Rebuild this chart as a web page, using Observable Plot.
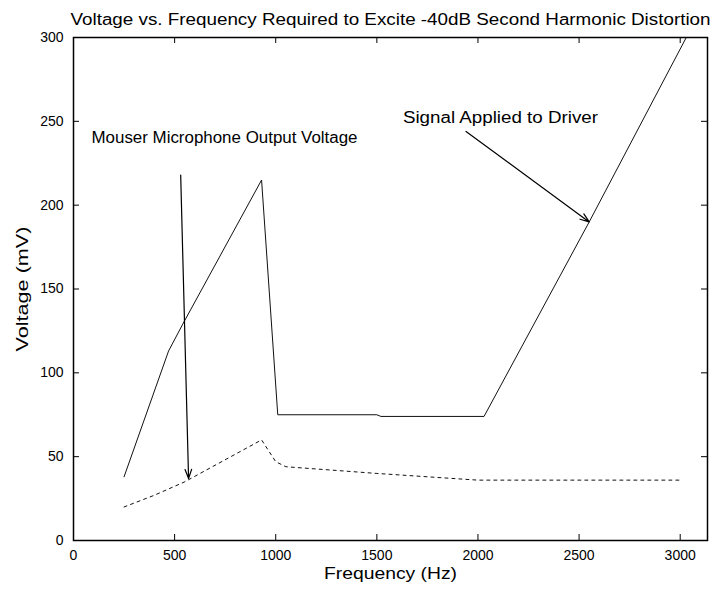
<!DOCTYPE html>
<html>
<head>
<meta charset="utf-8">
<script src="https://cdn.jsdelivr.net/npm/d3@7"></script>
<script src="https://cdn.jsdelivr.net/npm/@observablehq/plot@0.6"></script>
<style>
  html, body { margin: 0; padding: 0; background: #fff; }
  svg { display: block; }
</style>
</head>
<body>
<div id="chart"></div>
<script>
const title = "Voltage vs. Frequency Required to Excite -40dB Second Harmonic Distortion";
const xLabel = "Frequency (Hz)";
const yLabel = "Voltage (mV)";

const xTicks = [0, 500, 1000, 1500, 2000, 2500, 3000];
const yTicks = [0, 50, 100, 150, 200, 250, 300];

// Signal Applied to Driver
const driverFreq = [250, 470, 540, 930, 1010, 1500, 1520, 2030, 2550, 3030];
const driverVolt = [38, 113, 129, 215, 75, 75, 74, 74, 190, 300];

// Mouser Microphone Output Voltage
const micFreq = [250, 400, 550, 930, 1000, 1050, 1500, 2000, 2500, 3000];
const micVolt = [20, 27, 35, 60, 47, 44, 40, 36, 36, 36];

// Annotations
const annTexts = ["Mouser Microphone Output Voltage", "Signal Applied to Driver"];
const annFreq = [89, 1629];
const annVolt = [240, 252];
const arrowFrom = [[530, 218], [1941, 244]];
const arrowTo = [[569, 37], [2550, 190]];

const driver = driverFreq.map((f, i) => ({f, v: driverVolt[i]}));
const mic = micFreq.map((f, i) => ({f, v: micVolt[i]}));
const anns = annTexts.map((t, i) => ({t, f: annFreq[i], v: annVolt[i]}));
const arrows = arrowFrom.map((a, i) => ({x1: a[0], y1: a[1], x2: arrowTo[i][0], y2: arrowTo[i][1]}));

const font = "'Liberation Sans', Arial, sans-serif";

const chart = Plot.plot({
  width: 712,
  height: 594,
  marginLeft: 73,
  marginRight: 5,
  marginTop: 37,
  marginBottom: 54,
  style: {fontFamily: font, fontSize: "14px", color: "#000", background: "#fff"},
  x: {domain: [0, 3135], ticks: xTicks},
  y: {domain: [0, 300], ticks: yTicks},
  marks: [
    Plot.axisX({ticks: xTicks, tickSize: 0, tickPadding: 10, tickFormat: d => String(d), label: null, fontSize: 14}),
    Plot.axisY({ticks: yTicks, tickSize: 0, tickPadding: 10, tickFormat: d => String(d), label: null, fontSize: 14}),
    // inward ticks on all four sides
    Plot.tickX(xTicks, {x: d => d, insetTop: 497, stroke: "#000"}),
    Plot.tickX(xTicks, {x: d => d, insetBottom: 497, stroke: "#000"}),
    Plot.tickY(yTicks, {y: d => d, insetRight: 628, stroke: "#000"}),
    Plot.tickY(yTicks, {y: d => d, insetLeft: 628, stroke: "#000"}),
    Plot.line(driver, {x: "f", y: "v", stroke: "#111", strokeWidth: 1, clip: true}),
    Plot.line(mic, {x: "f", y: "v", stroke: "#111", strokeWidth: 1, strokeDasharray: "3,4"}),
    Plot.arrow(arrows, {x1: "x1", y1: "y1", x2: "x2", y2: "y2", stroke: "#000", strokeWidth: 1.2, headLength: 12, headAngle: 40}),
    Plot.text(anns, {x: "f", y: "v", text: "t", textAnchor: "start", lineAnchor: "middle", fontSize: 16, fill: "#000"}),
    Plot.text([title], {frameAnchor: "top", dy: -24, textAnchor: "middle", fontSize: 16, fill: "#000"}),
    Plot.text([xLabel], {frameAnchor: "bottom", dy: 38, textAnchor: "middle", fontSize: 16, fill: "#000"}),
    Plot.text([yLabel], {frameAnchor: "left", dx: -51, rotate: -90, textAnchor: "middle", fontSize: 16, fill: "#000"}),
    Plot.frame({stroke: "#000", strokeWidth: 1.5})
  ]
});

// stretch texts horizontally to match the scanned reference's wide lettering
const textWidths = {};
textWidths[title] = 640;
textWidths[xLabel] = 133;
textWidths[yLabel] = 125;
textWidths[annTexts[0]] = 266;
textWidths[annTexts[1]] = 195;
d3.select(chart).selectAll("text").each(function() {
  const w = textWidths[this.textContent];
  if (w) {
    this.setAttribute("textLength", w);
    this.setAttribute("lengthAdjust", "spacingAndGlyphs");
  }
});
document.getElementById("chart").appendChild(chart);
</script>
</body>
</html>
